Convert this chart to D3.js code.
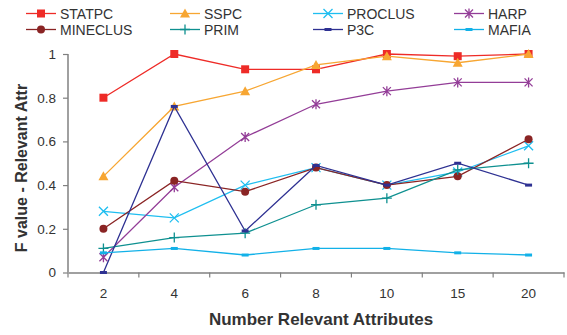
<!DOCTYPE html>
<html><head><meta charset="utf-8">
<script src="https://cdn.jsdelivr.net/npm/d3@7"></script>
<style>body{margin:0;background:#fff;} svg{display:block;font-family:"Liberation Sans",Arial,sans-serif;}</style>
</head><body>
<svg id="c" width="567" height="335"></svg>
<script>
const categories = ["2","4","6","8","10","15","20"];
const yTicks = [0,0.2,0.4,0.6,0.8,1];
const seriesNames = ["STATPC","SSPC","PROCLUS","HARP","MINECLUS","PRIM","P3C","MAFIA"];
const STATPC   = [0.80,1.00,0.93,0.93,1.00,0.99,1.00];
const SSPC     = [0.44,0.76,0.83,0.95,0.99,0.96,1.00];
const PROCLUS  = [0.28,0.25,0.40,0.48,0.40,0.46,0.58];
const HARP     = [0.07,0.39,0.62,0.77,0.83,0.87,0.87];
const MINECLUS = [0.20,0.42,0.37,0.48,0.40,0.44,0.61];
const PRIM     = [0.11,0.16,0.18,0.31,0.34,0.47,0.50];
const P3C      = [0.00,0.76,0.19,0.49,0.40,0.50,0.40];
const MAFIA    = [0.09,0.11,0.08,0.11,0.11,0.09,0.08];
const values = [STATPC,SSPC,PROCLUS,HARP,MINECLUS,PRIM,P3C,MAFIA];
const colors = ["#ee2b27","#f7a632","#1fbef0","#933d97","#8a2424","#0e9090","#2e3192","#12b1e8"];
const markers = ["square","triangle","x","asterisk","circle","plus","dash","dash"];

const svg = d3.select("#c");
const x = d3.scaleBand().domain(categories).range([68,564]);
const y = d3.scaleLinear().domain([0,1]).range([272.5,54]);

// axes
const gx = svg.append("g").attr("transform","translate(0,272.5)")
  .call(d3.axisBottom(x).tickSize(0).tickPadding(16));
gx.select(".domain").attr("stroke","#808080").attr("stroke-width",1.5);
gx.selectAll("text").attr("font-size",13.5).attr("fill","#333");
const bounds = categories.map(c=>x(c)).concat([x.range()[1]]);
gx.selectAll(".bt").data(bounds).enter().append("line")
  .attr("x1",d=>d).attr("x2",d=>d).attr("y1",0).attr("y2",5)
  .attr("stroke","#808080").attr("stroke-width",1.2);

const gy = svg.append("g").attr("transform","translate(68,0)")
  .call(d3.axisLeft(y).tickValues(yTicks).tickFormat(d3.format("")).tickSize(5).tickPadding(7));
gy.select(".domain").attr("stroke","#808080").attr("stroke-width",1.5).attr("d","M0,54V272.5");
gy.selectAll(".tick line").attr("stroke","#808080").attr("stroke-width",1.2);
gy.selectAll("text").attr("font-size",13.5).attr("fill","#333");

// titles
svg.append("text").attr("x",321).attr("y",325).attr("text-anchor","middle")
  .attr("font-size",17).attr("font-weight","bold").attr("fill","#333").text("Number Relevant Attributes");
svg.append("text").attr("transform","translate(27,168) rotate(-90)").attr("text-anchor","middle")
  .attr("font-size",16).attr("font-weight","bold").attr("fill","#333").text("F value - Relevant Attr");

function drawMarker(g, type, color){
  if(type==="square") g.append("rect").attr("x",-4).attr("y",-4).attr("width",8).attr("height",8).attr("fill",color);
  else if(type==="triangle") g.append("path").attr("d","M0,-5L5,4H-5Z").attr("fill",color);
  else if(type==="circle") g.append("circle").attr("r",4).attr("fill",color);
  else if(type==="x") g.append("path").attr("d","M-4.5,-4.5L4.5,4.5M-4.5,4.5L4.5,-4.5").attr("stroke",color).attr("stroke-width",1.3).attr("fill","none");
  else if(type==="plus") g.append("path").attr("d","M-5,0H5M0,-5V5").attr("stroke",color).attr("stroke-width",1.3).attr("fill","none");
  else if(type==="asterisk") g.append("path").attr("d","M-4,-4L4,4M-4,4L4,-4M0,-5V5").attr("stroke",color).attr("stroke-width",1.3).attr("fill","none");
  else if(type==="dash") g.append("rect").attr("x",-3.5).attr("y",-1.5).attr("width",7).attr("height",3).attr("fill",color);
}

const line = d3.line().x((d,i)=>x(categories[i])+x.bandwidth()/2).y(d=>y(d));
values.forEach((vals,k)=>{
  svg.append("path").attr("d",line(vals)).attr("fill","none").attr("stroke",colors[k]).attr("stroke-width",1.3);
  vals.forEach((v,i)=>{
    const g = svg.append("g").attr("transform",`translate(${x(categories[i])+x.bandwidth()/2},${y(v)})`);
    drawMarker(g, markers[k], colors[k]);
  });
});

// legend
const colX = [26,170,313,454];
const rowY = [13.5,29.5];
seriesNames.forEach((n,k)=>{
  const cx = colX[k%4], cy = rowY[Math.floor(k/4)];
  const g = svg.append("g").attr("transform",`translate(${cx},${cy})`);
  g.append("line").attr("x1",0).attr("x2",30).attr("y1",0).attr("y2",0).attr("stroke",colors[k]).attr("stroke-width",1.3);
  const m = g.append("g").attr("transform","translate(15,0)");
  drawMarker(m, markers[k], colors[k]);
  g.append("text").attr("x",34).attr("y",5).attr("font-size",14).attr("fill","#333").text(n);
});
</script>
</body></html>
